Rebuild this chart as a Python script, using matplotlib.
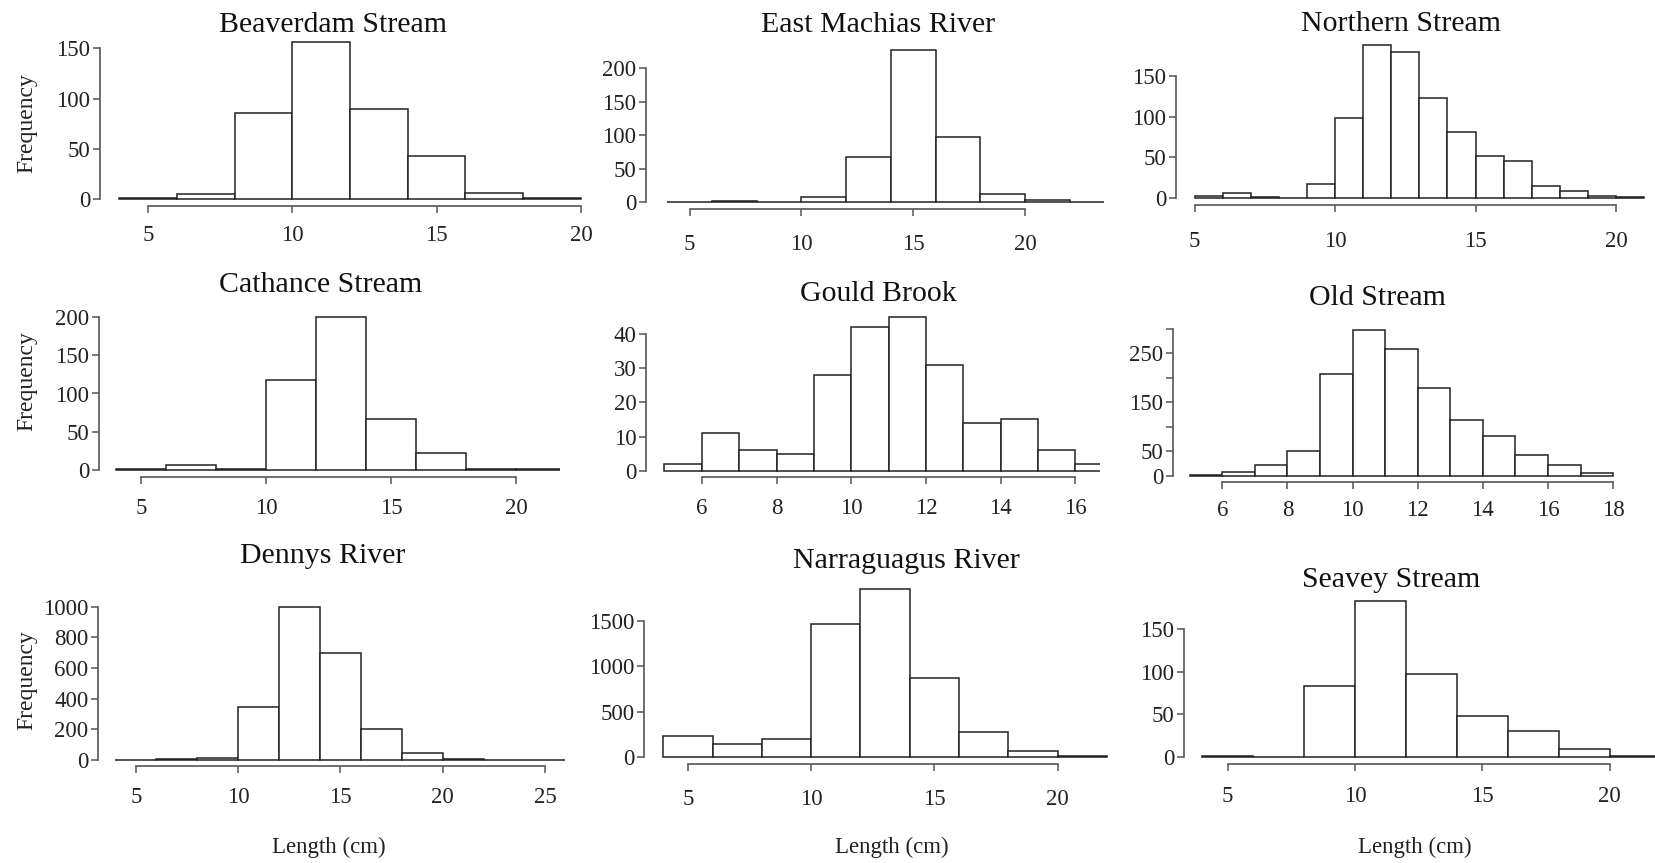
import matplotlib
matplotlib.use("Agg")
import matplotlib.pyplot as plt

plt.rcParams['font.family'] = ['Liberation Serif', 'DejaVu Serif']

W, H = 1656, 863

# --- data: bin left edges, bin width, counts per river ---
beaverdam_bins = [4, 6, 8, 10, 12, 14, 16, 18]
beaverdam_counts = [1, 5, 86, 156, 90, 43, 6, 1]

machias_bins = [4, 6, 8, 10, 12, 14, 16, 18, 20, 22]
machias_counts = [1, 2, 1, 8, 67, 227, 98, 13, 4, 1]

northern_bins = [5, 6, 7, 8, 9, 10, 11, 12, 13, 14, 15, 16, 17, 18, 19, 20]
northern_counts = [2, 6, 1, 0, 17, 98, 188, 179, 123, 81, 52, 45, 15, 9, 3, 1]

cathance_bins = [4, 6, 8, 10, 12, 14, 16, 18, 20]
cathance_counts = [2, 7, 2, 117, 199, 67, 23, 2, 2]

gould_bins = [5, 6, 7, 8, 9, 10, 11, 12, 13, 14, 15, 16]
gould_counts = [2, 11, 6, 5, 28, 42, 45, 31, 14, 15, 6, 2]

old_bins = [5, 6, 7, 8, 9, 10, 11, 12, 13, 14, 15, 16, 17]
old_counts = [2, 7, 22, 51, 207, 297, 259, 178, 114, 82, 43, 21, 5]

dennys_bins = [4, 6, 8, 10, 12, 14, 16, 18, 20, 22, 24]
dennys_counts = [2, 6, 10, 348, 1000, 696, 204, 43, 4, 0, 0]

narr_bins = [4, 6, 8, 10, 12, 14, 16, 18, 20]
narr_counts = [238, 147, 198, 1470, 1852, 869, 282, 70, 11]

seavey_bins = [4, 6, 8, 10, 12, 14, 16, 18, 20]
seavey_counts = [1, 0, 83, 183, 98, 48, 30, 9, 1]

titles = ["Beaverdam Stream", "East Machias River", "Northern Stream",
          "Cathance Stream", "Gould Brook", "Old Stream",
          "Dennys River", "Narraguagus River", "Seavey Stream"]

xticks_a = [5, 10, 15, 20]
xticks_dennys = [5, 10, 15, 20, 25]
xticks_gould = [6, 8, 10, 12, 14, 16]
xticks_old = [6, 8, 10, 12, 14, 16, 18]

yt_beaver = [0, 50, 100, 150]
yt_machias = [0, 50, 100, 150, 200]
yt_gould = [0, 10, 20, 30, 40]
yt_old = [0, 50, 100, 150, 200, 250, 300]
yt_old_labels = ["0", "50", "", "150", "", "250", ""]
yt_dennys = [0, 200, 400, 600, 800, 1000]
yt_narr = [0, 500, 1000, 1500]

# --- layout in image pixels (y measured from the top) ---
# spine x, spine y, right edge, top edge, two x calib points, y=0 px, y calib value/px
panels = [
    dict(bins=beaverdam_bins, counts=beaverdam_counts, w=2, xt=xticks_a, yt=yt_beaver,
         L=100, B=206, R=600, T=15, xc=(5, 148.1, 20, 580.9), yc=(199.3, 150, 48.3),
         title=(333, 25), pad=9),
    dict(bins=machias_bins, counts=machias_counts, w=2, xt=xticks_a, yt=yt_machias,
         L=646, B=209, R=1104, T=15, xc=(5, 689.6, 20, 1025), yc=(202.3, 200, 68.3),
         title=(878, 25), pad=13),
    dict(bins=northern_bins, counts=northern_counts, w=1, xt=xticks_a, yt=yt_beaver,
         L=1176, B=205, R=1656, T=15, xc=(5, 1194.7, 20, 1616), yc=(198, 150, 76),
         title=(1401, 24), pad=14),
    dict(bins=cathance_bins, counts=cathance_counts, w=2, xt=xticks_a, yt=yt_machias,
         L=99, B=477, R=560, T=300, xc=(5, 141, 20, 516), yc=(470.3, 200, 316.7),
         title=(321, 285), pad=10),
    dict(bins=gould_bins, counts=gould_counts, w=1, xt=xticks_gould, yt=yt_gould,
         L=646, B=477, R=1100, T=300, xc=(6, 701.8, 16, 1075.4), yc=(470.7, 40, 334),
         title=(878, 294), pad=10),
    dict(bins=old_bins, counts=old_counts, w=1, xt=xticks_old, yt=yt_old, ytl=yt_old_labels,
         L=1173, B=482, R=1656, T=300, xc=(6, 1222.3, 18, 1613.1), yc=(475.7, 300, 328.7),
         title=(1377, 298), pad=8),
    dict(bins=dennys_bins, counts=dennys_counts, w=2, xt=xticks_dennys, yt=yt_dennys,
         L=98, B=766, R=570, T=580, xc=(5, 135.8, 25, 544.9), yc=(760, 1000, 606.7),
         title=(323, 556), pad=10),
    dict(bins=narr_bins, counts=narr_counts, w=2, xt=xticks_a, yt=yt_narr,
         L=644, B=764, R=1108, T=580, xc=(5, 687.9, 20, 1057.5), yc=(757.3, 1500, 621),
         title=(906, 561), pad=13),
    dict(bins=seavey_bins, counts=seavey_counts, w=2, xt=xticks_a, yt=yt_beaver,
         L=1184, B=764, R=1656, T=590, xc=(5, 1227.7, 20, 1609.6), yc=(757, 150, 629.3),
         title=(1391, 580), pad=11),
]

fig = plt.figure(figsize=(W / 100, H / 100), dpi=100)

for p, title in zip(panels, titles):
    L, B, R, T = p['L'], p['B'], p['R'], p['T']
    ax = fig.add_axes([L / W, 1 - B / H, (R - L) / W, (B - T) / H])
    ax.patch.set_visible(False)
    xa, pxa, xb, pxb = p['xc']
    sx = (pxb - pxa) / (xb - xa)
    ax.set_xlim(xa + (L - pxa) / sx, xa + (R - pxa) / sx)
    py0, yv, pyv = p['yc']
    sy = (py0 - pyv) / yv
    ax.set_ylim((py0 - B) / sy, (py0 - T) / sy)

    ax.bar(p['bins'], p['counts'], width=p['w'], align='edge',
           facecolor='white', edgecolor='#222222', linewidth=1.1)

    for s in ('top', 'right'):
        ax.spines[s].set_visible(False)
    for s in ('left', 'bottom'):
        ax.spines[s].set_color('#555555')
        ax.spines[s].set_linewidth(1.2)
    ax.spines['left'].set_bounds(p['yt'][0], p['yt'][-1])
    ax.spines['bottom'].set_bounds(p['xt'][0], p['xt'][-1])
    ax.set_xticks(p['xt'])
    ax.set_yticks(p['yt'])
    if 'ytl' in p:
        ax.set_yticklabels(p['ytl'])
    ax.tick_params(axis='x', length=5, width=1.1, color='#555555', pad=p['pad'],
                   labelsize=16.5, labelcolor='#222222')
    ax.tick_params(axis='y', length=5, width=1.1, color='#555555', pad=2,
                   labelsize=16.5, labelcolor='#222222')

    tx, ty = p['title']
    fig.text(tx / W, 1 - ty / H, title, ha='center', va='center', fontsize=21.5,
             color='#111111')

# shared axis labels
for ly in (123, 381, 680):
    fig.text(27 / W, 1 - ly / H, "Frequency", rotation=90, ha='center', va='center',
             fontsize=17, color='#222222')
for lx in (329, 892, 1415):
    fig.text(lx / W, 1 - 847 / H, "Length (cm)", ha='center', va='center',
             fontsize=16.5, color='#222222')

fig.savefig("out.png", dpi=100, facecolor='white')
